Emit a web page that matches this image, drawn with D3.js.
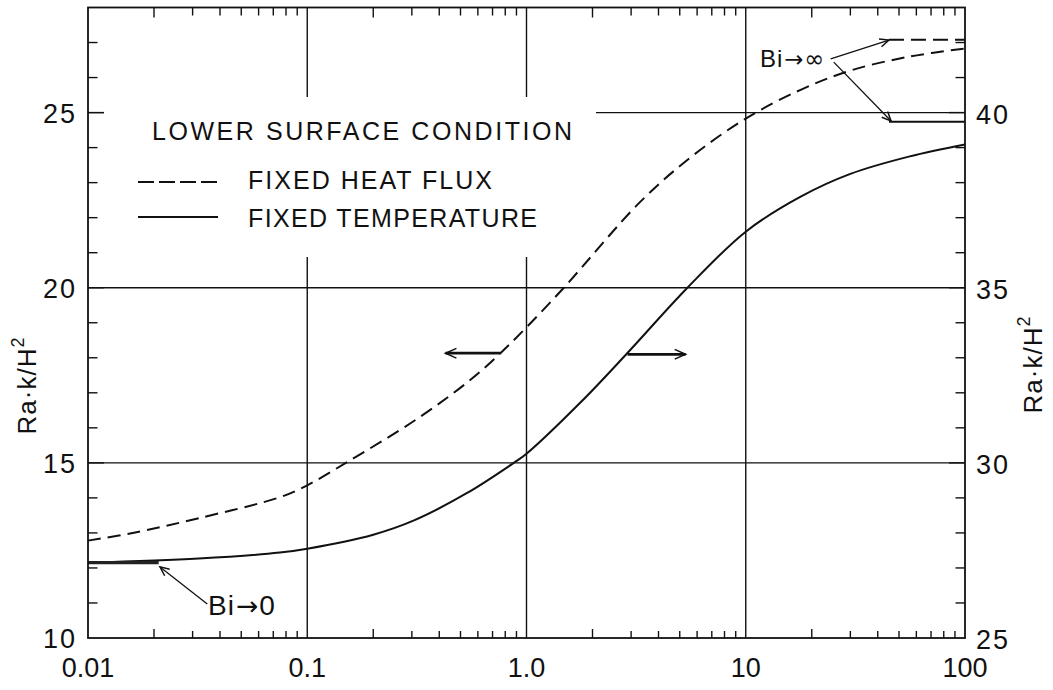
<!DOCTYPE html>
<html>
<head>
<meta charset="utf-8">
<script src="https://cdn.jsdelivr.net/npm/d3@7"></script>
<style>
  html, body { margin: 0; padding: 0; background: #fff; }
  text { font-family: 'Liberation Sans', Arial, sans-serif; fill: #111; }
</style>
</head>
<body>
<div id="chart"></div>
<script>
// fixed heat flux curve (left axis)
const biFlux = [0.01, 0.016, 0.032, 0.075, 0.1, 0.15, 0.316, 0.555, 0.76, 1, 1.48, 3.3, 5.6, 10, 17.8, 30, 56, 100];
const raFlux = [12.78, 13.0, 13.42, 14.02, 14.36, 15.0, 16.25, 17.37, 18.13, 18.87, 20.0, 22.45, 23.72, 24.83, 25.65, 26.2, 26.6, 26.83];

// fixed temperature curve (right axis)
const biTemp = [0.01, 0.032, 0.075, 0.1, 0.2, 0.305, 0.536, 0.875, 1, 1.78, 2.88, 5.42, 10, 17.8, 30, 56, 100];
const raTemp = [27.15, 27.27, 27.44, 27.55, 27.95, 28.35, 29.14, 30.0, 30.26, 31.75, 33.13, 35.0, 36.6, 37.6, 38.25, 38.75, 39.09];

// asymptotic limits
const biZero = [0.01, 0.021];
const raZeroTemp = 27.15;
const biInf = [45, 100];
const raInfFlux = 27.08;
const raInfTemp = 39.74;

const xTickValues = [0.01, 0.1, 1, 10, 100];
const xTickLabels = ['0.01', '0.1', '1.0', '10', '100'];
const leftTicks = [10, 15, 20, 25];
const rightTicks = [25, 30, 35, 40];
const gridX = [0.1, 1, 10];
const gridY = [15, 20, 25];

const width = 1053;
const height = 690;
const margin = { top: 7.5, left: 88, bottom: 52, right: 88 };

const svg = d3.select('#chart')
    .append('svg')
    .attr('width', width)
    .attr('height', height);

const x = d3.scaleLog().domain([0.01, 100]).range([margin.left, width - margin.right]);
const yL = d3.scaleLinear().domain([10, 28]).range([height - margin.bottom, margin.top]);
const yR = d3.scaleLinear().domain([25, 43]).range([height - margin.bottom, margin.top]);

const x0 = x.range()[0], x1 = x.range()[1];
const y0 = yL.range()[0], y1 = yL.range()[1];

// grid
svg.selectAll('.gx').data(gridX).enter().append('line')
    .attr('x1', (d) => x(d)).attr('x2', (d) => x(d))
    .attr('y1', y0).attr('y2', y1)
    .attr('stroke', '#111').attr('stroke-width', 1.4);
svg.selectAll('.gy').data(gridY).enter().append('line')
    .attr('x1', x0).attr('x2', x1)
    .attr('y1', (d) => yL(d)).attr('y2', (d) => yL(d))
    .attr('stroke', '#111').attr('stroke-width', 1.4);

// minor ticks on x (top and bottom)
const minorX = [];
[0.01, 0.1, 1, 10].forEach((dec) => {
    for (let k = 2; k <= 9; k++) minorX.push({ v: dec * k, len: k === 2 ? 9 : 7 });
});
svg.selectAll('.mxb').data(minorX).enter().append('line')
    .attr('x1', (d) => x(d.v)).attr('x2', (d) => x(d.v))
    .attr('y1', y0).attr('y2', (d) => y0 - d.len)
    .attr('stroke', '#111').attr('stroke-width', 1.4);
svg.selectAll('.mxt').data(minorX).enter().append('line')
    .attr('x1', (d) => x(d.v)).attr('x2', (d) => x(d.v))
    .attr('y1', y1).attr('y2', (d) => y1 + d.len + 1)
    .attr('stroke', '#111').attr('stroke-width', 1.4);

// y ticks, every unit, both sides
svg.selectAll('.tl').data(d3.range(11, 28)).enter().append('line')
    .attr('x1', x0).attr('x2', (d) => x0 + (d % 5 === 0 ? 16 : 9.5))
    .attr('y1', (d) => yL(d)).attr('y2', (d) => yL(d))
    .attr('stroke', '#111').attr('stroke-width', 1.4);
svg.selectAll('.tr').data(d3.range(26, 43)).enter().append('line')
    .attr('x1', x1).attr('x2', (d) => x1 - (d % 5 === 0 ? 16 : 9.5))
    .attr('y1', (d) => yR(d)).attr('y2', (d) => yR(d))
    .attr('stroke', '#111').attr('stroke-width', 1.4);

// legend box hides the grid behind it
svg.append('rect')
    .attr('x', 104).attr('y', 97)
    .attr('width', 492).attr('height', 160)
    .attr('fill', '#fff');

const lg = svg.append('g');
lg.append('text').attr('x', 152).attr('y', 140)
    .attr('font-size', 25).attr('textLength', 420).attr('lengthAdjust', 'spacing')
    .text('LOWER SURFACE CONDITION');
lg.append('line').attr('x1', 138).attr('x2', 218).attr('y1', 182).attr('y2', 182)
    .attr('stroke', '#111').attr('stroke-width', 1.8).attr('stroke-dasharray', '16,5');
lg.append('text').attr('x', 248).attr('y', 189)
    .attr('font-size', 25).attr('textLength', 244).attr('lengthAdjust', 'spacing')
    .text('FIXED HEAT FLUX');
lg.append('line').attr('x1', 138).attr('x2', 218).attr('y1', 217).attr('y2', 217)
    .attr('stroke', '#111').attr('stroke-width', 1.8);
lg.append('text').attr('x', 248).attr('y', 227)
    .attr('font-size', 25).attr('textLength', 289).attr('lengthAdjust', 'spacing')
    .text('FIXED TEMPERATURE');

// curves
const lineL = d3.line().x((d) => x(d[0])).y((d) => yL(d[1])).curve(d3.curveCatmullRom.alpha(0.5));
const lineR = d3.line().x((d) => x(d[0])).y((d) => yR(d[1])).curve(d3.curveCatmullRom.alpha(0.5));

svg.append('path')
    .attr('d', lineL(biFlux.map((b, i) => [b, raFlux[i]])))
    .attr('fill', 'none').attr('stroke', '#111').attr('stroke-width', 2)
    .attr('stroke-dasharray', '13,7');
svg.append('path')
    .attr('d', lineR(biTemp.map((b, i) => [b, raTemp[i]])))
    .attr('fill', 'none').attr('stroke', '#111').attr('stroke-width', 2);

// limits
svg.append('path')
    .attr('d', lineR(biZero.map((b) => [b, raZeroTemp])))
    .attr('fill', 'none').attr('stroke', '#222').attr('stroke-width', 3.2);
svg.append('path')
    .attr('d', lineL(biInf.map((b) => [b, raInfFlux])))
    .attr('fill', 'none').attr('stroke', '#111').attr('stroke-width', 2)
    .attr('stroke-dasharray', '15,7');
svg.append('path')
    .attr('d', lineR(biInf.map((b) => [b, raInfTemp])))
    .attr('fill', 'none').attr('stroke', '#111').attr('stroke-width', 2);

// frame
svg.append('rect')
    .attr('x', x0).attr('y', y1)
    .attr('width', x1 - x0).attr('height', y0 - y1)
    .attr('fill', 'none').attr('stroke', '#111').attr('stroke-width', 1.8);

// arrows (in data coordinates of the left axis)
const arrows = [
    { from: [0.76, 18.13], to: [0.427, 18.13], w: 2.8, head: 12 },
    { from: [2.89, 18.1], to: [5.32, 18.1], w: 2.8, head: 12 },
    { from: [0.035, 10.97], to: [0.0213, 12.03], w: 1.3, head: 10 },
    { from: [24.4, 26.53], to: [45, 27.07], w: 1.3, head: 10 },
    { from: [25.2, 26.44], to: [46, 24.76], w: 1.3, head: 10 },
];
arrows.forEach((a) => {
    const xa = x(a.from[0]), ya = yL(a.from[1]);
    const xb = x(a.to[0]), yb = yL(a.to[1]);
    const ang = Math.atan2(yb - ya, xb - xa);
    const s = 0.42;
    svg.append('line')
        .attr('x1', xa).attr('y1', ya).attr('x2', xb).attr('y2', yb)
        .attr('stroke', '#111').attr('stroke-width', a.w);
    svg.append('path')
        .attr('d', `M${xb - a.head * Math.cos(ang - s)},${yb - a.head * Math.sin(ang - s)}L${xb},${yb}L${xb - a.head * Math.cos(ang + s)},${yb - a.head * Math.sin(ang + s)}`)
        .attr('fill', 'none').attr('stroke', '#111').attr('stroke-width', 1.5);
});

// Bi labels: arrow glyph from DejaVu for a centred shaft
const biLabel = (tx, ty, size, end) => {
    const t = svg.append('text').attr('x', tx).attr('y', ty).attr('font-size', size);
    t.append('tspan').attr('letter-spacing', 1).text('Bi');
    t.append('tspan').attr('font-family', 'DejaVu Sans').attr('font-size', size * 0.95).attr('dx', 1).text('→');
    t.append('tspan').attr('dx', 1).attr('font-family', end === '∞' ? 'DejaVu Sans' : null).text(end);
};
biLabel(x(0.0353), yL(10.66), 28, '0');
biLabel(x(11.6), yL(26.3), 24, '∞');

// tick labels
svg.selectAll('.xl').data(xTickValues).enter().append('text')
    .attr('x', (d) => x(d)).attr('y', 677)
    .attr('text-anchor', 'middle').attr('font-size', 27)
    .text((d, i) => xTickLabels[i]);
svg.selectAll('.yl').data(leftTicks).enter().append('text')
    .attr('x', x0 - 11).attr('y', (d) => yL(d) + 10)
    .attr('text-anchor', 'end').attr('font-size', 27).attr('letter-spacing', 2)
    .text((d) => d);
svg.selectAll('.yr').data(rightTicks).enter().append('text')
    .attr('x', x1 + 11).attr('y', (d) => yR(d) + 11)
    .attr('text-anchor', 'start').attr('font-size', 27).attr('letter-spacing', 2)
    .text((d) => d);

// axis titles
const title = (tx, ty) => {
    const t = svg.append('text')
        .attr('transform', `translate(${tx},${ty}) rotate(-90)`)
        .attr('text-anchor', 'middle').attr('font-size', 26);
    t.append('tspan').attr('letter-spacing', 1).text('Ra·k/H');
    t.append('tspan').attr('font-size', 18).attr('dy', -12).text('2');
};
title(36, 386);
title(1042, 365);
</script>
</body>
</html>
